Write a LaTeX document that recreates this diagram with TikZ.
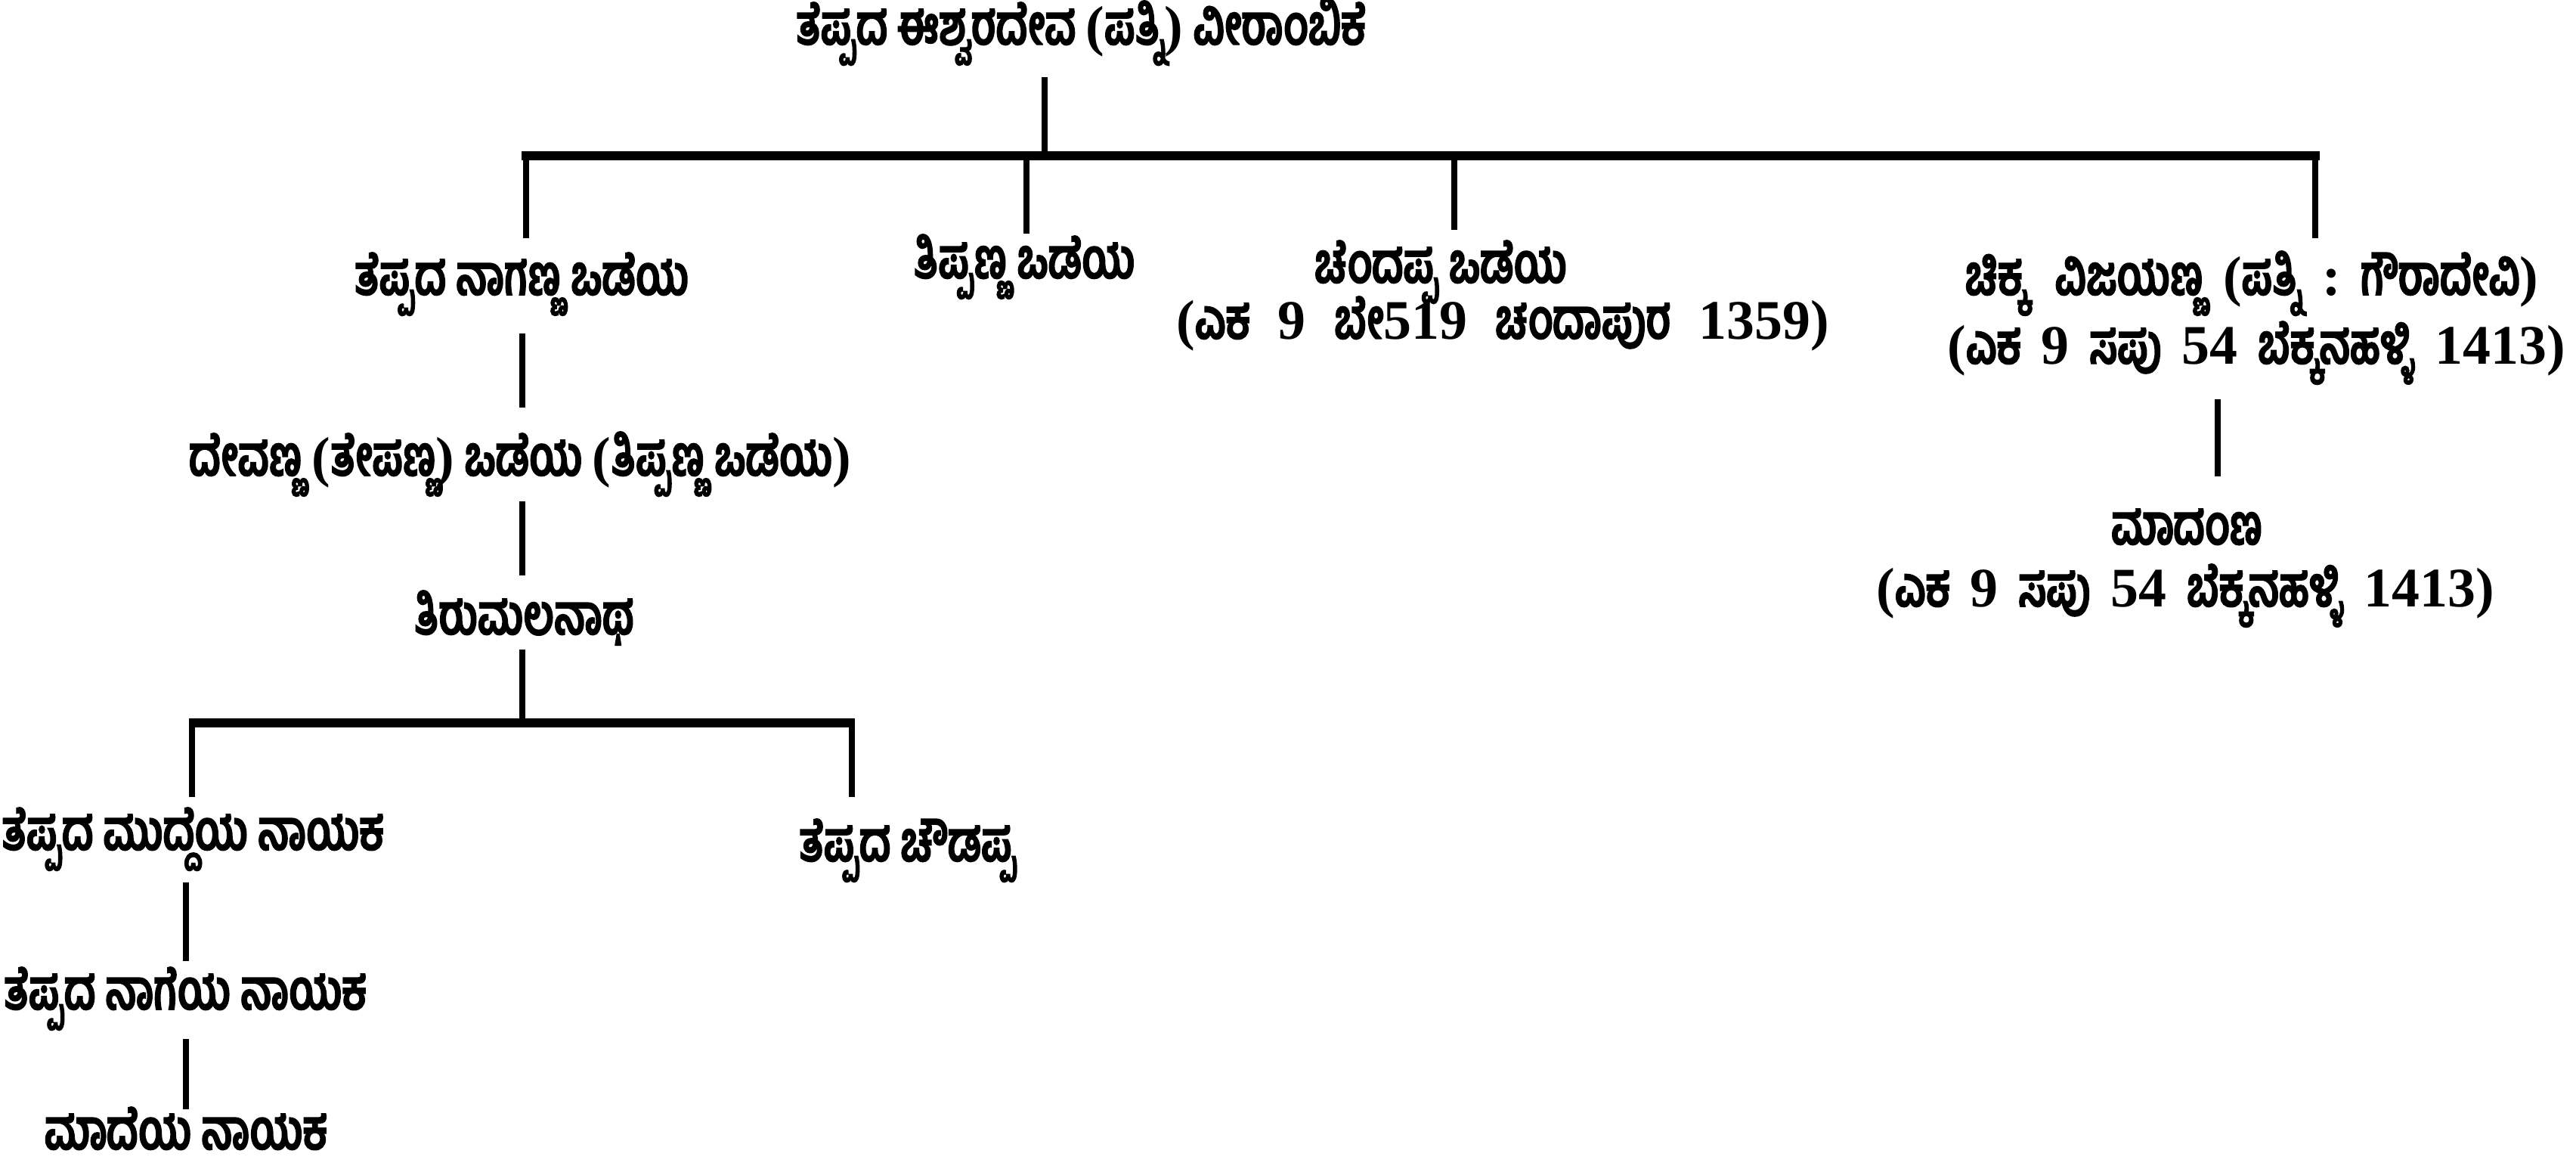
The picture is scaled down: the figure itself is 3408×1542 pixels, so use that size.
\documentclass[tikz,border=0pt]{standalone}
\usepackage{fontspec}
\newfontfamily\kn[Script=Kannada, FakeStretch=0.72, BoldFeatures={FakeBold=2}]{Hind Mysuru}
\newfontfamily\tn{Liberation Serif}
\newcommand\rs[1]{{\tn\bfseries #1}}
\newcommand\gap{\hspace{0.5em}}
\newcommand\gapb{\hspace{0.36em}}
\tikzset{
  lbl/.style={font=\kn\bfseries\fontsize{21}{25}\selectfont, inner sep=0pt, anchor=base},
  vline/.style={line width=2.5pt},
  hbar/.style={line width=3.2pt}
}
\begin{document}
\begin{tikzpicture}[x=0.01cm,y=-0.01cm]
\useasboundingbox (0,0) rectangle (3408,1542);
% nodes
\node[lbl] (root) at (1430,59) {ತೆಪ್ಪದ ಈಶ್ವರದೇವ \rs{(}ಪತ್ನಿ\rs{)} ವೀರಾಂಬಿಕೆ};
\node[lbl] (c1) at (690,390) {ತೆಪ್ಪದ ನಾಗಣ್ಣ ಒಡೆಯ};
\node[lbl] (c2) at (1355,368) {ತಿಪ್ಪಣ್ಣ ಒಡೆಯ};
\node[lbl] (c3) at (1906,374) {ಚೆಂದಪ್ಪ ಒಡೆಯ};
\node[lbl] (c3b) at (1988,448) {\rs{(}ಎಕ\gap\rs{9}\gap ಬೇ\rs{519}\gap ಚಂದಾಪುರ\gap\rs{1359)}};
\node[lbl] (c4) at (2979,390) {ಚಿಕ್ಕ\gap ವಿಜಯಣ್ಣ\gapb\rs{(}ಪತ್ನಿ\gapb\rs{:}\gapb ಗೌರಾದೇವಿ\rs{)}};
\node[lbl] (c4b) at (2985,481) {\rs{(}ಎಕ\gapb\rs{9}\gapb ಸಪು\gapb\rs{54}\gapb ಬೆಕ್ಕನಹಳ್ಳಿ\gapb\rs{1413)}};
\node[lbl] (dev) at (688,629) {ದೇವಣ್ಣ \rs{(}ತೇಪಣ್ಣ\rs{)} ಒಡೆಯ \rs{(}ತಿಪ್ಪಣ್ಣ ಒಡೆಯ\rs{)}};
\node[lbl] (tiru) at (693,839) {ತಿರುಮಲನಾಥ};
\node[lbl] (mud) at (255,1124) {ತೆಪ್ಪದ ಮುದ್ದೆಯ ನಾಯಕ};
\node[lbl] (chow) at (1201,1139) {ತೆಪ್ಪದ ಚೌಡಪ್ಪ};
\node[lbl] (nag) at (245,1335) {ತೆಪ್ಪದ ನಾಗೆಯ ನಾಯಕ};
\node[lbl] (made) at (246,1520) {ಮಾದೆಯ ನಾಯಕ};
\node[lbl] (mdm) at (2893,720) {ಮಾದಂಣ};
\node[lbl] (mdmb) at (2891,802) {\rs{(}ಎಕ\gapb\rs{9}\gapb ಸಪು\gapb\rs{54}\gapb ಬೆಕ್ಕನಹಳ್ಳಿ\gapb\rs{1413)}};
% coordinates
\coordinate (r1) at (1382,102);
\coordinate (r2) at (1382,206);
\coordinate (bl) at (690,206);
\coordinate (br) at (3069,206);
\coordinate (c1t) at (696,206);  \coordinate (c1e) at (696,315);
\coordinate (c2t) at (1358,206); \coordinate (c2e) at (1358,309);
\coordinate (c3t) at (1924,206); \coordinate (c3e) at (1924,304);
\coordinate (c4t) at (3063,206); \coordinate (c4e) at (3063,315);
\coordinate (d1) at (691,441);   \coordinate (d2) at (691,539);
\coordinate (t1) at (691,663);   \coordinate (t2) at (691,761);
\coordinate (u1) at (691,859);   \coordinate (u2) at (691,956);
\coordinate (bl2) at (250,956);  \coordinate (br2) at (1131,956);
\coordinate (m1) at (254,956);   \coordinate (m2) at (254,1054);
\coordinate (h1) at (1127,956);  \coordinate (h2) at (1127,1054);
\coordinate (n1) at (246,1167);  \coordinate (n2) at (246,1271);
\coordinate (k1) at (246,1374);  \coordinate (k2) at (246,1467);
\coordinate (v1) at (2934,528);  \coordinate (v2) at (2934,630);
% connectors
\draw[vline] (r1) -- (r2);
\draw[hbar] (bl) -- (br);
\draw[vline] (c1t) -- (c1e);
\draw[vline] (c2t) -- (c2e);
\draw[vline] (c3t) -- (c3e);
\draw[vline] (c4t) -- (c4e);
\draw[vline] (d1) -- (d2);
\draw[vline] (t1) -- (t2);
\draw[vline] (u1) -- (u2);
\draw[hbar] (bl2) -- (br2);
\draw[vline] (m1) -- (m2);
\draw[vline] (h1) -- (h2);
\draw[vline] (n1) -- (n2);
\draw[vline] (k1) -- (k2);
\draw[vline] (v1) -- (v2);
\end{tikzpicture}
\end{document}
